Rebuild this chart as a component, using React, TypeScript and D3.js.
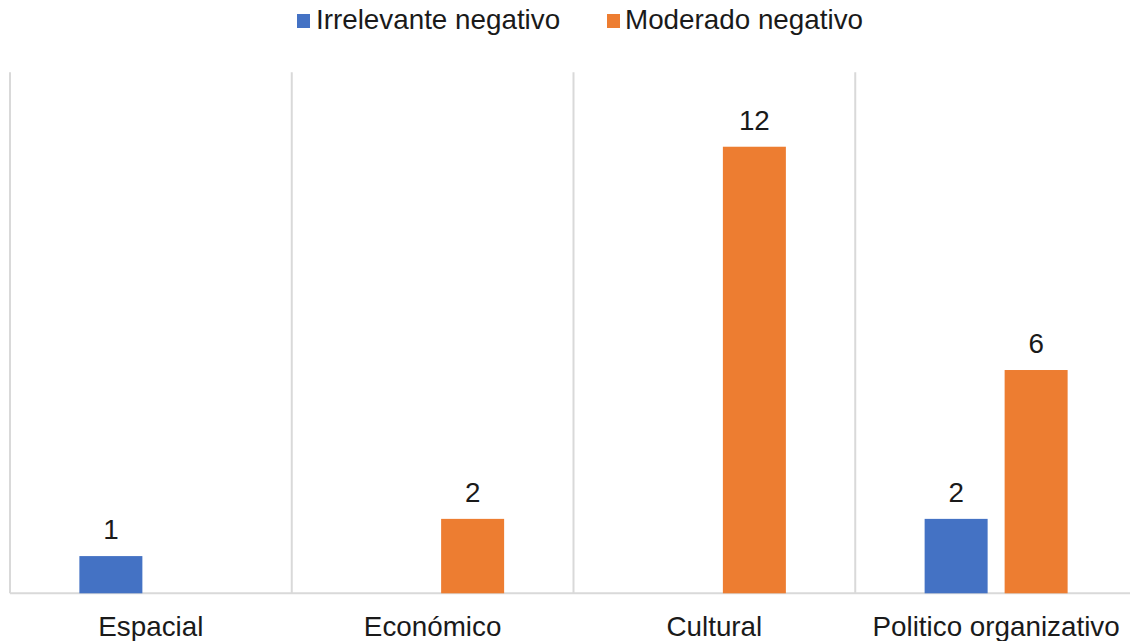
import React from "react";
import * as d3 from "d3";

const categories = ["Espacial", "Económico", "Cultural", "Politico organizativo"];
const seriesNames = ["Irrelevante negativo", "Moderado negativo"];
const irrelevante = [1, 0, 0, 2];
const moderado = [0, 2, 12, 6];
const colors = ["#4472C4", "#ED7D31"];

const W = 1130;
const H = 641;
const FONT = "'Liberation Sans', Arial, sans-serif";
const FS = 27.8;

export default function App() {
  const left = 10;
  const step = 281.75;
  const right = left + step * categories.length;
  const baseY = 593.3;
  const topY = 72.3;

  const x = d3.scaleBand<string>().domain(categories).range([left, right]).padding(0);
  const y = d3.scaleLinear().domain([0, 14]).range([baseY, topY]);
  const groupW = 143;
  const xs = d3
    .scaleBand<string>()
    .domain(seriesNames)
    .range([0, groupW])
    .paddingInner(17 / 80)
    .paddingOuter(0);

  const values = [irrelevante, moderado];

  const gridXs = categories.map((c) => x(c)!);

  return (
    <div style={{ position: "absolute", left: 0, top: 0 }}>
      <svg width={W} height={H} style={{ display: "block", background: "#fff" }}>
        {gridXs.map((gx, i) => (
          <line key={i} x1={gx} x2={gx} y1={topY} y2={baseY} stroke="#d9d9d9" strokeWidth={2} />
        ))}
        <line x1={left} x2={W} y1={baseY} y2={baseY} stroke="#d9d9d9" strokeWidth={2} />
        {categories.map((c, ci) => {
          const cx = x(c)! + x.bandwidth() / 2;
          const gx0 = cx - groupW / 2;
          return seriesNames.map((s, si) => {
            const v = values[si][ci];
            if (!v) return null;
            const bx = gx0 + xs(s)!;
            return (
              <g key={c + s}>
                <rect x={bx} y={y(v)} width={xs.bandwidth()} height={baseY - y(v)} fill={colors[si]} />
                <text
                  x={bx + xs.bandwidth() / 2}
                  y={y(v) - 17}
                  textAnchor="middle"
                  fontFamily={FONT}
                  fontSize={FS}
                  fill="#1a1a1a"
                >
                  {v}
                </text>
              </g>
            );
          });
        })}
        {categories.map((c) => (
          <text
            key={c}
            x={x(c)! + x.bandwidth() / 2}
            y={636}
            textAnchor="middle"
            fontFamily={FONT}
            fontSize={FS}
            fill="#1a1a1a"
          >
            {c}
          </text>
        ))}
        <g>
          <rect x={297} y={14} width={13} height={14} fill={colors[0]} />
          <text x={316} y={29} fontFamily={FONT} fontSize={FS} fill="#1a1a1a">
            {seriesNames[0]}
          </text>
          <rect x={607} y={14} width={13} height={14} fill={colors[1]} />
          <text x={625} y={29} fontFamily={FONT} fontSize={FS} fill="#1a1a1a">
            {seriesNames[1]}
          </text>
        </g>
      </svg>
    </div>
  );
}
